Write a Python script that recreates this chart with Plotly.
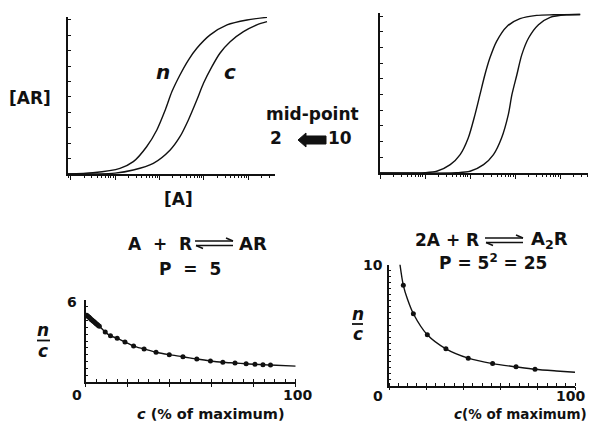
import numpy as np
import plotly.graph_objects as go

# ---------------- data ----------------
# top-left: A + R <-> AR, log10[A] (decades) vs fractional [AR]
tl_n_logA = [-1.06, -0.5, 0.11, 0.41, 0.71, 0.94, 1.13, 1.28, 1.46, 1.65, 1.84, 2.14, 2.52, 2.97, 3.42]
tl_n_AR = [0.0, 0.008, 0.037, 0.08, 0.177, 0.286, 0.416, 0.535, 0.643, 0.74, 0.816, 0.903, 0.968, 1.0, 1.017]
tl_c_logA = [-1.06, 0.0, 0.41, 0.86, 1.24, 1.46, 1.65, 1.84, 1.99, 2.18, 2.36, 2.59, 2.89, 3.19, 3.42]
tl_c_AR = [0.0, 0.006, 0.026, 0.069, 0.156, 0.242, 0.351, 0.48, 0.589, 0.697, 0.784, 0.859, 0.924, 0.968, 0.989]

# top-right: 2A + R <-> A2R
tr_n_logA = [-1.0, 0.0, 0.26, 0.56, 0.78, 0.96, 1.11, 1.22, 1.33, 1.44, 1.59, 1.82, 2.11, 2.48, 2.85, 3.45]
tr_n_AR = [0.0, 0.002, 0.011, 0.053, 0.117, 0.223, 0.372, 0.499, 0.626, 0.732, 0.839, 0.934, 0.983, 1.004, 1.008, 1.01]
tr_c_logA = [-1.0, 0.7, 1.0, 1.3, 1.52, 1.70, 1.85, 1.93, 2.04, 2.15, 2.30, 2.52, 2.78, 3.15, 3.44]
tr_c_AR = [0.0, 0.002, 0.011, 0.053, 0.117, 0.223, 0.372, 0.499, 0.626, 0.754, 0.86, 0.945, 0.992, 1.008, 1.01]

# bottom-left: n/c vs c (% of maximum), P = 5
bl_c = [0.5, 1, 1.5, 2, 2.5, 3, 3.5, 4, 4.5, 5, 5.5, 6, 6.5, 9.3, 11.8, 15, 18.7, 22.8, 27.8,
        33.5, 39.8, 46.3, 52.9, 59.4, 65.3, 71.1, 76.4, 80.6, 84.4, 88]
bl_ratio = [4.88, 4.82, 4.75, 4.68, 4.6, 4.53, 4.46, 4.4, 4.33, 4.27, 4.2, 4.14, 4.08, 3.65, 3.38,
            3.2, 2.92, 2.63, 2.42, 2.18, 2.0, 1.85, 1.68, 1.54, 1.45, 1.39, 1.33, 1.29, 1.27, 1.24]
bl_line_c = [0] + bl_c + [100]
bl_line_ratio = [4.95] + bl_ratio + [1.16]

# bottom-right: n/c vs c (% of maximum), P = 25
br_c = [7.7, 13.1, 20.6, 30.6, 42.6, 55.7, 68.3, 78.5]
br_ratio = [8.28, 5.93, 4.19, 3.03, 2.26, 1.81, 1.54, 1.34]
br_line_c = [5.9, 7.7, 10.0, 13.1, 20.6, 30.6, 42.6, 55.7, 68.3, 78.5, 90.0, 100.0]
br_line_ratio = [10.0, 8.28, 7.1, 5.93, 4.19, 3.03, 2.26, 1.81, 1.54, 1.34, 1.2, 1.1]

bl_ticklabels = {"x0": "0", "x100": "100", "y": "6"}
br_ticklabels = {"x0": "0", "x100": "100", "y": "10"}

# ---------------- layout helpers ----------------
W, H = 593, 437
FONT = "DejaVu Sans"
BLACK = "#111111"


def X(px):
    return px / W


def Y(py):
    return 1 - py / H


def xdom(a, b):
    return [X(a), X(b)]


def ydom(top, bottom):
    return [Y(bottom), Y(top)]


fig = go.Figure()
line_style = dict(color=BLACK, width=1.4, shape="spline", smoothing=0.8)

fig.add_trace(go.Scatter(x=tl_n_logA, y=tl_n_AR, mode="lines", line=line_style, xaxis="x", yaxis="y"))
fig.add_trace(go.Scatter(x=tl_c_logA, y=tl_c_AR, mode="lines", line=line_style, xaxis="x", yaxis="y"))
fig.add_trace(go.Scatter(x=tr_n_logA, y=tr_n_AR, mode="lines", line=line_style, xaxis="x2", yaxis="y2"))
fig.add_trace(go.Scatter(x=tr_c_logA, y=tr_c_AR, mode="lines", line=line_style, xaxis="x2", yaxis="y2"))

fig.add_trace(go.Scatter(x=bl_line_c, y=bl_line_ratio, mode="lines", line=line_style, xaxis="x3", yaxis="y3"))
fig.add_trace(go.Scatter(x=bl_c, y=bl_ratio, mode="markers", marker=dict(color=BLACK, size=5),
                         xaxis="x3", yaxis="y3"))
fig.add_trace(go.Scatter(x=br_line_c, y=br_line_ratio, mode="lines", line=line_style, xaxis="x4", yaxis="y4"))
fig.add_trace(go.Scatter(x=br_c, y=br_ratio, mode="markers", marker=dict(color=BLACK, size=5),
                         xaxis="x4", yaxis="y4"))


def log_minor(lo, hi):
    vals = []
    for d in range(int(np.floor(lo)), int(np.ceil(hi)) + 1):
        for k in range(2, 10):
            v = d + np.log10(k)
            if lo <= v <= hi:
                vals.append(float(v))
    return vals


def log_xaxis(lo, hi, dom, anchor):
    return dict(domain=dom, range=[lo, hi], anchor=anchor, showline=True, linecolor=BLACK, linewidth=1.6,
                showgrid=False, zeroline=False, showticklabels=False,
                tickmode="array", tickvals=[d for d in range(-1, 4) if lo - 0.01 <= d <= hi],
                ticks="outside", ticklen=4, tickwidth=1.3, tickcolor=BLACK,
                minor=dict(tickmode="array", tickvals=log_minor(lo, hi), ticks="outside", ticklen=2,
                           tickwidth=1.1, tickcolor=BLACK))


def frac_yaxis(dom, anchor, top):
    return dict(domain=dom, range=[0, top], anchor=anchor, showline=True, linecolor=BLACK, linewidth=1.6,
                showgrid=False, zeroline=False, showticklabels=False, tickmode="linear", tick0=0, dtick=0.1,
                ticks="inside", ticklen=3, tickwidth=1.2, tickcolor=BLACK)


def lin_xaxis(dom, anchor):
    return dict(domain=dom, range=[0, 100], anchor=anchor, showline=True, linecolor=BLACK, linewidth=1.6,
                showgrid=False, zeroline=False, showticklabels=False, tickmode="linear", tick0=0, dtick=20,
                ticks="outside", ticklen=3, tickwidth=1.3, tickcolor=BLACK,
                minor=dict(tickmode="linear", tick0=0, dtick=5, ticks="inside", ticklen=3, tickwidth=1.2,
                           tickcolor=BLACK))


def lin_yaxis(dom, anchor, top):
    return dict(domain=dom, range=[0, top], anchor=anchor, showline=True, linecolor=BLACK, linewidth=1.6,
                showgrid=False, zeroline=False, showticklabels=False, tickmode="linear", tick0=0, dtick=0.5,
                ticks="inside", ticklen=2.5, tickwidth=1.2, tickcolor=BLACK)


# panel pixel boxes
TL = dict(x0=68, x1=275, top=16.9, bottom=174)
TR = dict(x0=380, x1=588, top=12.9, bottom=173)
BL = dict(x0=85.7, x1=295.7, top=300, bottom=382)
BR = dict(x0=389, x1=575, top=264.5, bottom=385.5)

fig.update_layout(
    width=W, height=H, autosize=False, margin=dict(l=0, r=0, t=0, b=0),
    paper_bgcolor="white", plot_bgcolor="white", showlegend=False,
    font=dict(family=FONT, color=BLACK),
    xaxis=log_xaxis(-1.06, 3.6, xdom(TL["x0"], TL["x1"]), "y"),
    yaxis=frac_yaxis(ydom(TL["top"], TL["bottom"]), "x", 1.02),
    xaxis2=log_xaxis(-1.0, 3.62, xdom(TR["x0"], TR["x1"]), "y2"),
    yaxis2=frac_yaxis(ydom(TR["top"], TR["bottom"]), "x2", 1.02),
    xaxis3=lin_xaxis(xdom(BL["x0"], BL["x1"]), "y3"),
    yaxis3=lin_yaxis(ydom(BL["top"], BL["bottom"]), "x3", 6),
    xaxis4=lin_xaxis(xdom(BR["x0"], BR["x1"]), "y4"),
    yaxis4=lin_yaxis(ydom(BR["top"], BR["bottom"]), "x4", 10),
)

annotations = []


def txt(s, px, py, size, xanchor="center"):
    annotations.append(dict(text=s, x=X(px), y=Y(py), xref="paper", yref="paper", showarrow=False,
                            xanchor=xanchor, yanchor="middle", font=dict(size=size, family=FONT, color=BLACK)))


# top panel labels
txt("<b>[AR]</b>", 30, 98, 17)
txt("<b>[A]</b>", 178, 199, 17)
txt("<b><i>n</i></b>", 163, 72, 20)
txt("<b><i>c</i></b>", 230, 72, 20)
txt("<b>mid-point</b>", 312, 114, 17)
txt("<b>2</b>", 276, 138, 17)
txt("<b>10</b>", 340, 138, 17)

# equations
txt("<b>A\u00a0 +\u00a0 R</b>", 160, 243.5, 17)
txt("<b>AR</b>", 252.5, 243.5, 18)
txt("<b>P\u00a0 =\u00a0 5</b>", 189.5, 268.5, 17)
txt("<b>2A + R</b>", 447, 240, 17)
txt("<b>A<sub>2</sub>R</b>", 549, 240, 18)
txt("<b>P = 5<sup>2</sup> = 25</b>", 493, 261.5, 17)

# bottom tick labels
txt("<b>" + bl_ticklabels["x0"] + "</b>", 77, 395, 14)
txt("<b>" + bl_ticklabels["x100"] + "</b>", 297, 395, 14)
txt("<b>" + bl_ticklabels["y"] + "</b>", 72, 302, 14)
txt("<b>" + br_ticklabels["x0"] + "</b>", 378, 396, 14)
txt("<b>" + br_ticklabels["x100"] + "</b>", 570, 396, 14)
txt("<b>" + br_ticklabels["y"] + "</b>", 373, 265, 14)

# x titles
txt("<b><i>c</i> (% of maximum)</b>", 211, 414, 14.5)
txt("<b><i>c</i>(% of maximum)</b>", 520, 414, 13.5)

# n/c fractions
txt("<b><i>n</i></b>", 43, 330, 17)
txt("<b><i>c</i></b>", 43, 351, 17)
txt("<b><i>n</i></b>", 357.5, 314, 17)
txt("<b><i>c</i></b>", 357.5, 334, 17)

fig.update_layout(annotations=annotations)

shapes = []


def seg(x0, y0, x1, y1, w=1.4):
    shapes.append(dict(type="line", xref="paper", yref="paper", x0=X(x0), y0=Y(y0), x1=X(x1), y1=Y(y1),
                       line=dict(color=BLACK, width=w)))


def path(points):
    d = "M " + " L ".join(f"{X(a):.5f},{Y(b):.5f}" for a, b in points) + " Z"
    shapes.append(dict(type="path", xref="paper", yref="paper", path=d, fillcolor=BLACK,
                       line=dict(color=BLACK, width=1)))


# fraction bars
seg(37, 340.5, 50, 340.5, 1.8)
seg(352, 324, 363, 324, 1.8)

# equilibrium harpoons (left)
seg(195, 241, 233, 241, 1.7)
seg(233, 241, 226, 238, 1.5)
seg(196, 245.5, 233, 245.5, 1.7)
seg(196, 245.5, 203, 248.5, 1.5)
# equilibrium harpoons (right)
seg(485, 238, 523, 238, 1.7)
seg(523, 238, 516, 235, 1.5)
seg(486, 242.5, 523, 242.5, 1.7)
seg(486, 242.5, 493, 245.5, 1.5)

# big arrow (10 -> 2)
path([(298, 140), (306, 133), (306, 136), (326, 136), (326, 144), (306, 144), (306, 147)])

fig.update_layout(shapes=shapes)

fig.write_html("out.html", config={"displayModeBar": False},
               post_script="document.body.style.margin='0';document.body.style.overflow='hidden';")
